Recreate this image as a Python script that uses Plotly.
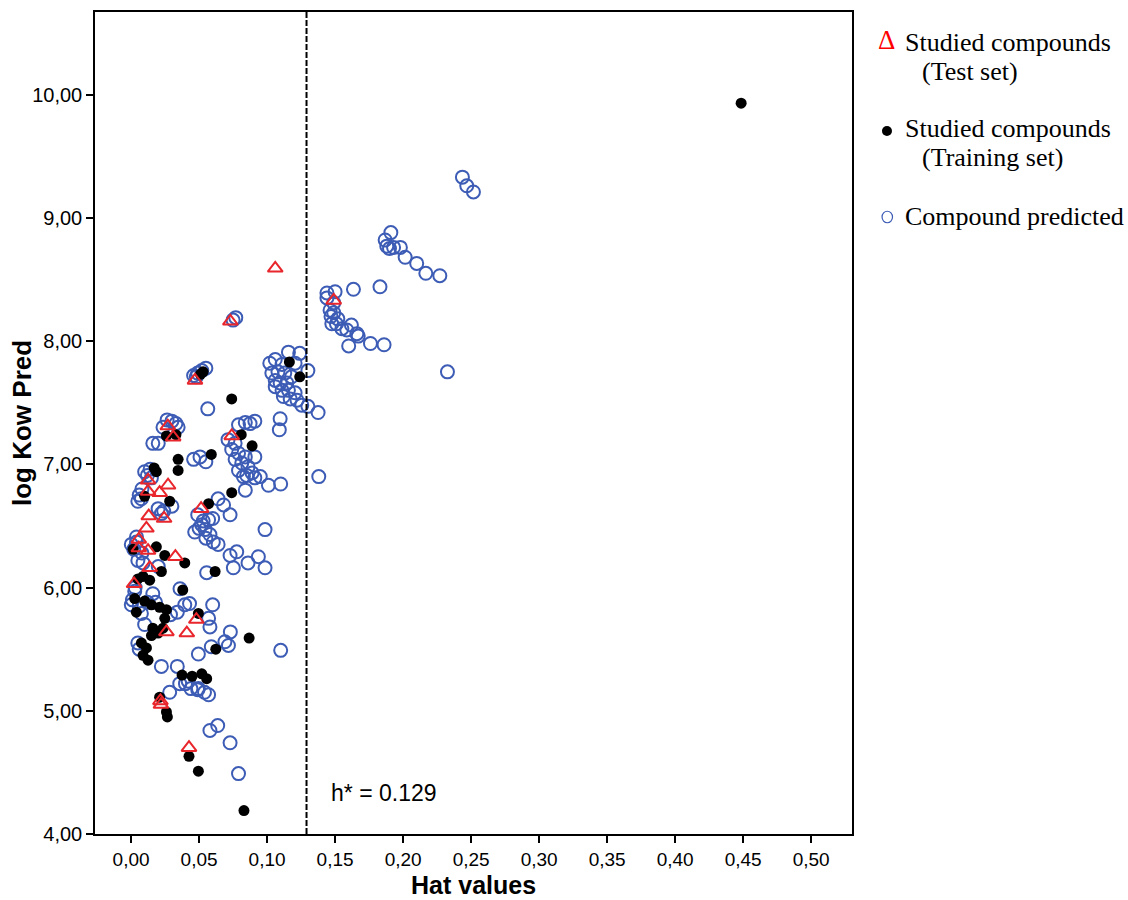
import plotly.graph_objects as go

# ---- data ----
test_x = [0.106, 0.073, 0.047, 0.149, 0.027, 0.031, 0.074, 0.0515, 0.0125, 0.0125, 0.021, 0.0272,
          0.013, 0.0243, 0.0113, 0.0057, 0.0057, 0.0125, 0.0326, 0.0137, 0.0022, 0.048, 0.026,
          0.041, 0.0216, 0.022, 0.0426]
test_y = [8.59, 8.16, 7.68, 8.33, 7.31, 7.22, 7.23, 6.64, 6.87, 6.78, 6.77, 6.83,
          6.58, 6.56, 6.48, 6.39, 6.32, 6.30, 6.25, 6.16, 6.03, 5.74, 5.64,
          5.63, 5.08, 5.05, 4.70]

train_x = [0.4485, 0.051, 0.053, 0.026, 0.033, 0.1164, 0.124, 0.074, 0.081, 0.089, 0.059,
           0.074, 0.057, 0.0618, 0.0495, 0.0868, 0.0623, 0.052, 0.0556, 0.0495, 0.0426, 0.083,
           0.0076, 0.0113, 0.0088, 0.0125, 0.015, 0.0199, 0.0375, 0.0449, 0.021, 0.026, 0.0267,
           0.0186, 0.0346, 0.010, 0.0284, 0.0186, 0.0248, 0.0395, 0.0223, 0.005, 0.0088, 0.0137,
           0.038, 0.0027, 0.010, 0.015, 0.021, 0.026, 0.0039, 0.0248, 0.016, 0.0235, 0.0015,
           0.0346, 0.017]
train_y = [9.93, 7.73, 7.75, 7.23, 7.24, 7.83, 7.71, 7.53, 7.24, 7.15, 7.08,
           6.77, 6.68, 6.13, 5.79, 5.59, 5.50, 5.30, 5.26, 4.51, 4.63, 4.19,
           5.55, 5.51, 5.45, 5.41, 5.61, 5.63, 5.29, 5.28, 5.11, 4.99, 4.95,
           6.94, 6.95, 6.74, 6.70, 6.33, 6.26, 6.20, 6.13, 6.07, 6.09, 6.06,
           5.98, 5.91, 5.89, 5.86, 5.84, 5.82, 5.80, 5.75, 5.67, 5.67, 6.31,
           7.04, 6.97]

pred_x = [0.2436, 0.2468, 0.2517, 0.191, 0.1868, 0.188, 0.190, 0.193, 0.198, 0.2015, 0.210, 0.2167,
          0.227, 0.183, 0.1635, 0.144, 0.150, 0.144, 0.1463, 0.149, 0.1476, 0.151, 0.155, 0.162,
          0.1586, 0.166, 0.167, 0.160, 0.176, 0.186, 0.2326, 0.138, 0.1375, 0.130, 0.130, 0.147,
          0.152, 0.149,
          0.1157, 0.124, 0.106, 0.102, 0.111, 0.1206, 0.1035, 0.108, 0.113, 0.118, 0.106, 0.1096,
          0.1145, 0.111, 0.1157, 0.1206, 0.112, 0.117, 0.122, 0.1255, 0.106, 0.1096, 0.109, 0.110,
          0.101, 0.091, 0.085, 0.0985,
          0.075, 0.077, 0.046, 0.049, 0.052, 0.055, 0.048, 0.0564,
          0.079, 0.084, 0.0875, 0.091, 0.0713, 0.0765, 0.074, 0.079, 0.084, 0.0765, 0.0814, 0.086,
          0.091, 0.079, 0.089, 0.095, 0.0826, 0.0507, 0.046, 0.055,
          0.084, 0.064, 0.068, 0.0728, 0.057, 0.052, 0.0544, 0.058, 0.0605, 0.064, 0.050, 0.053,
          0.055, 0.060, 0.0728, 0.0777, 0.086, 0.0936, 0.0985, 0.0752, 0.0556, 0.049, 0.0468,
          0.060, 0.057, 0.058, 0.073, 0.059, 0.069, 0.0716, 0.110, 0.0495, 0.0495, 0.054, 0.057,
          0.058, 0.0637, 0.0728, 0.079,
          0.005, 0.0223, 0.034, 0.0358, 0.0284, 0.042, 0.049,
          0.010, 0.015, 0.0076, 0.005, 0.0199, 0.0223, 0.004, 0.0002, 0.0088, 0.036, 0.0395, 0.043,
          0.0027, 0.0002, 0.0076,
          0.0265, 0.030, 0.033, 0.0235, 0.0346, 0.020, 0.016, 0.012, 0.008, 0.006, 0.014, 0.002,
          0.004, 0.008, 0.005, 0.003, 0.001, 0.006, 0.012, 0.018, 0.010, 0.006, 0.016, 0.020,
          0.024, 0.030, 0.034, 0.029, 0.040, 0.044]
pred_y = [9.33, 9.26, 9.21, 8.88, 8.82, 8.77, 8.75, 8.76, 8.76, 8.68, 8.63, 8.55,
          8.53, 8.44, 8.42, 8.39, 8.40, 8.35, 8.25, 8.23, 8.14, 8.14, 8.10, 8.13,
          8.09, 8.06, 8.04, 7.96, 7.98, 7.97, 7.75, 6.90, 7.42, 7.76, 7.47, 8.20,
          8.18, 8.31,
          7.91, 7.90, 7.85, 7.82, 7.81, 7.82, 7.74, 7.75, 7.74, 7.71, 7.68, 7.66,
          7.66, 7.60, 7.60, 7.58, 7.55, 7.53, 7.52, 7.48, 7.63, 7.37, 7.28, 6.84,
          6.83, 6.89, 6.91, 6.47,
          8.17, 8.19, 7.72, 7.74, 7.76, 7.78, 7.71, 7.45,
          7.32, 7.34, 7.33, 7.35, 7.20, 7.17, 7.12, 7.09, 7.06, 7.04, 7.01, 6.98,
          7.06, 6.95, 6.93, 6.90, 6.90, 7.06, 7.04, 7.02,
          6.79, 6.72, 6.67, 6.59, 6.55, 6.51, 6.47, 6.43, 6.37, 6.35, 6.48, 6.54,
          6.40, 6.56, 6.26, 6.29, 6.20, 6.25, 6.16, 6.16, 6.12, 6.59, 6.45,
          5.86, 5.75, 5.68, 5.64, 5.52, 5.56, 5.53, 5.49, 5.46, 5.18, 5.15, 5.13,
          4.84, 4.88, 4.74, 4.49,
          5.55, 5.36, 5.36, 5.22, 5.15, 5.24, 5.17,
          6.94, 6.89, 6.72, 6.70, 6.64, 6.60, 6.41, 6.35, 6.20, 5.99, 5.86, 5.87,
          5.97, 5.86, 5.79,
          7.36, 7.35, 7.33, 7.30, 7.30, 7.17, 7.17, 6.91, 6.80, 6.75, 6.96, 6.31,
          6.37, 6.28, 6.22, 6.00, 5.90, 5.85, 5.88, 5.88, 5.70, 5.50, 5.95, 6.17,
          6.62, 6.66, 5.80, 5.78, 5.22, 5.18]

h_star = 0.129
x_ticks = [0.00, 0.05, 0.10, 0.15, 0.20, 0.25, 0.30, 0.35, 0.40, 0.45, 0.50]
y_ticks = [4, 5, 6, 7, 8, 9, 10]

BLUE = "#3d5cb5"
RED = "#e8262c"
YTICKFONT = dict(family="Liberation Sans Narrow, Liberation Sans, Arial", size=20, color="black")
XTICKFONT = dict(family="Liberation Sans Narrow, Liberation Sans, Arial", size=19, color="black")
TITLEFONT = dict(family="Liberation Sans, Arial", size=26, color="black")

fig = go.Figure()
fig.add_trace(go.Scatter(x=pred_x, y=pred_y, mode="markers", name="Compound predicted",
                         marker=dict(symbol="circle-open", size=13, color=BLUE, line=dict(width=2, color=BLUE))))
fig.add_trace(go.Scatter(x=train_x, y=train_y, mode="markers", name="Studied compounds (Training set)",
                         marker=dict(symbol="circle", size=11, color="black", line=dict(width=0))))
fig.add_trace(go.Scatter(x=test_x, y=test_y, mode="markers", name="Studied compounds (Test set)",
                         marker=dict(symbol="triangle-up-open", size=13, color=RED, line=dict(width=2, color=RED))))

# vertical dashed line at h*
fig.add_shape(type="line", x0=h_star, x1=h_star, y0=0, y1=1, xref="x", yref="paper",
              line=dict(color="black", width=2, dash="6px,2px"))
fig.add_annotation(x=h_star + 0.0162, y=4.33, xref="x", yref="y", text="h* = 0.129", showarrow=False,
                   xanchor="left", yanchor="middle",
                   font=dict(family="Liberation Sans, Arial", size=23, color="black"))

# axis titles as annotations for exact placement
fig.add_annotation(x=0.5, y=-0.0803, xref="paper", yref="paper", text="<b>Hat values</b>",
                   showarrow=False, xanchor="center", yanchor="bottom", borderpad=0,
                   font=dict(family="Liberation Sans, Arial", size=25, color="black"))
fig.add_annotation(x=-0.0964, y=0.5, xref="paper", yref="paper", text="<b>log Kow Pred</b>",
                   showarrow=False, xanchor="center", yanchor="middle", textangle=-90,
                   font=TITLEFONT)

# legend drawn as text (serif, like the reference)
LEGFONT = dict(family="Liberation Serif, Times New Roman", size=26, color="black")
leg_items = [
    (1.0674, 0.9635, "Studied compounds"),
    (1.0898, 0.9282, "(Test set)"),
    (1.0674, 0.8577, "Studied compounds"),
    (1.0898, 0.8224, "(Training set)"),
    (1.0674, 0.7518, "Compound predicted"),
]
for lx, ly, txt in leg_items:
    fig.add_annotation(x=lx, y=ly, xref="paper", yref="paper", text=txt, showarrow=False,
                       xanchor="left", yanchor="middle", font=LEGFONT)
fig.add_annotation(x=1.0462, y=0.9659, xref="paper", yref="paper", text="Δ", showarrow=False,
                   xanchor="center", yanchor="middle",
                   font=dict(family="Liberation Serif, Times New Roman", size=27, color="#ff0000"))
fig.add_shape(type="circle", xref="paper", yref="paper", x0=1.0396, x1=1.0528, y0=0.8491, y1=0.8613,
              fillcolor="black", line=dict(width=0))
fig.add_shape(type="circle", xref="paper", yref="paper", x0=1.0397, x1=1.0535, y0=0.7436, y1=0.7576,
              fillcolor="rgba(0,0,0,0)", line=dict(width=1.2, color=BLUE))

fig.update_layout(
    width=1128, height=900,
    margin=dict(l=95, r=276, t=12, b=66),
    paper_bgcolor="white", plot_bgcolor="white",
    showlegend=False,
    separators=",.",
)
fig.update_xaxes(range=[-0.0265, 0.530], tickvals=x_ticks, tickformat=".2f", automargin=False,
                 ticks="outside", ticklen=7, tickwidth=1.5, tickcolor="black",
                 showline=True, linecolor="black", linewidth=1.5, mirror=True,
                 showgrid=False, zeroline=False, tickfont=XTICKFONT)
fig.update_yaxes(range=[4.0, 10.67], tickvals=y_ticks, tickformat=".2f", automargin=False,
                 ticks="outside", ticklen=7, tickwidth=1.5, tickcolor="black",
                 showline=True, linecolor="black", linewidth=1.5, mirror=True,
                 showgrid=False, zeroline=False, tickfont=YTICKFONT)

fig.write_html("out.html")
